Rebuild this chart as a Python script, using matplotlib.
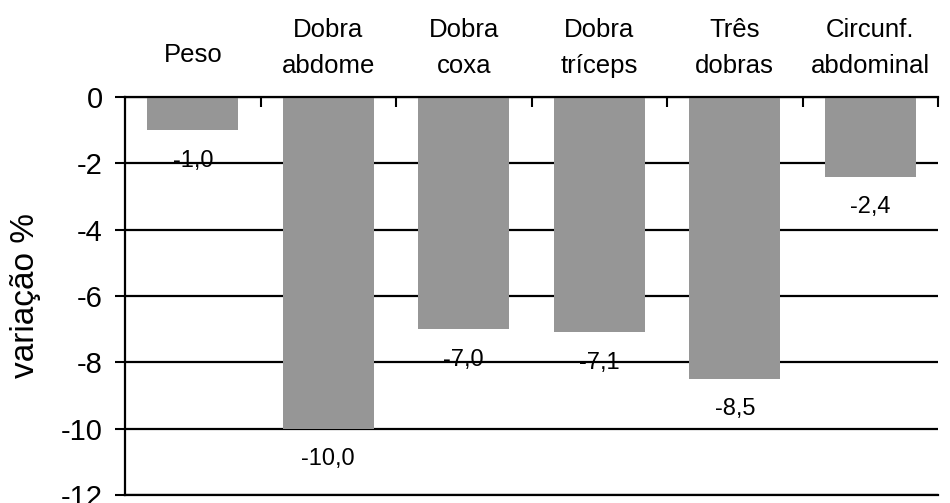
import matplotlib
matplotlib.use("Agg")
import matplotlib.pyplot as plt
import matplotlib.transforms as mtransforms

plt.rcParams['font.family'] = ['Liberation Sans', 'DejaVu Sans']

categories = ["Peso", "Dobra\nabdome", "Dobra\ncoxa", "Dobra\ntríceps",
              "Três\ndobras", "Circunf.\nabdominal"]
values = [-1.0, -10.0, -7.0, -7.1, -8.5, -2.4]
yticks = [0, -2, -4, -6, -8, -10, -12]

fig = plt.figure(figsize=(9.5, 5.03), dpi=100)
ax = fig.add_axes([125 / 950, 1 - 495 / 503, 813 / 950, (495 - 97) / 503])

x = list(range(len(categories)))
ax.bar(x, values, width=0.67, color="#969696", zorder=2)

ax.set_xlim(-0.5, len(categories) - 0.5)
ax.set_ylim(-12, 0)
ax.set_yticks(yticks)
ax.set_yticklabels([str(t) for t in yticks], fontsize=21)
ax.tick_params(axis='y', direction='out', length=7, width=1.5, pad=9)

# horizontal grid behind the bars
ax.set_axisbelow(True)
ax.yaxis.grid(True, color='black', linewidth=1.6)

ax.spines['right'].set_visible(False)
for side in ('top', 'left', 'bottom'):
    ax.spines[side].set_linewidth(1.6)

# category separators as ticks hanging from the zero line
ax.xaxis.set_ticks_position('top')
ax.set_xticks([i + 0.5 for i in x])
ax.set_xticklabels([])
ax.tick_params(axis='x', direction='in', length=7, width=1.5, top=True, bottom=False)

# category names above the zero line
trans = mtransforms.blended_transform_factory(ax.transData, fig.transFigure)
for i, name in enumerate(categories):
    lines = name.split("\n")
    baselines = [62] if len(lines) == 1 else [37, 73]
    for line, b in zip(lines, baselines):
        ax.text(i, 1 - b / 503, line, transform=trans, ha='center',
                va='baseline', fontsize=18.5, clip_on=False)

# value labels below each bar
for i, v in enumerate(values):
    ax.annotate(f"{v:.1f}".replace(".", ","), xy=(i, v), xytext=(0, -22),
                textcoords='offset points', ha='center', va='center',
                fontsize=17, zorder=3)

ax.set_ylabel("variação %", fontsize=24)
ax.yaxis.set_label_coords(-0.103, 0.5)

fig.savefig("out.png", dpi=100)
